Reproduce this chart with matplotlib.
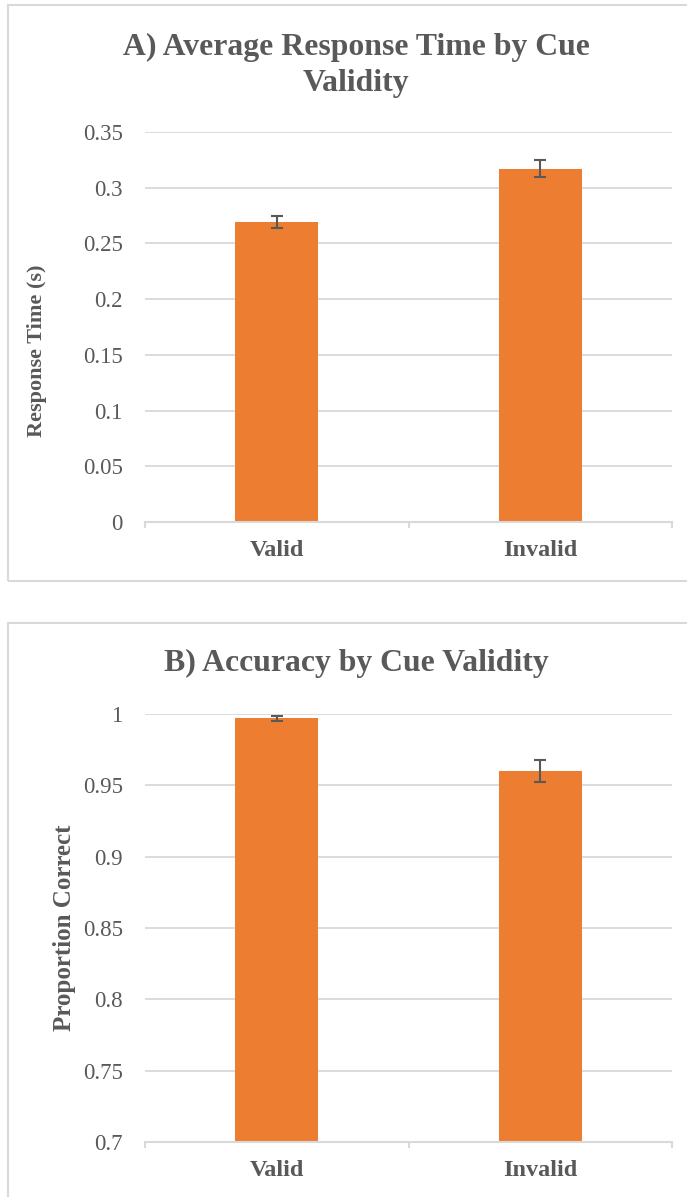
import matplotlib.pyplot as plt
from matplotlib.patches import Rectangle

# datos
categorias = ['Valid', 'Invalid']
rt_media = [0.269, 0.317]
rt_err = [0.0055, 0.0077]
acc_media = [0.997, 0.960]
acc_err = [0.0016, 0.008]

naranja = '#ED7D31'
gris = '#595959'
grilla = '#D9D9D9'

plt.rcParams['font.family'] = ['Liberation Serif', 'DejaVu Serif']

fig = plt.figure(figsize=(6.87, 11.97), dpi=100)
W, H = 687, 1197

# marcos de cada panel
fig.patches.append(Rectangle((8 / W, 1 - 581 / H), 700 / W, 576 / H, transform=fig.transFigure,
                             fill=False, edgecolor=grilla, lw=1.5))
fig.patches.append(Rectangle((8 / W, -0.01), 700 / W, 1 - 623 / H + 0.01, transform=fig.transFigure,
                             fill=False, edgecolor=grilla, lw=1.5))


def panel(rect, valores, errores, ylim, paso, etiqueta_y, tam_y, lab_x, lab_y, titulo, ty):
    ax = fig.add_axes(rect)
    x = range(len(categorias))
    ax.bar(x, valores, width=0.315, color=naranja, zorder=3)
    ax.errorbar(x, valores, yerr=errores, fmt='none', ecolor=gris, elinewidth=1.5,
                capsize=4.5, capthick=1.5, zorder=4)
    ax.set_xlim(-0.5, 1.5)
    ax.set_ylim(*ylim)
    n = round((ylim[1] - ylim[0]) / paso)
    ticks = [ylim[0] + i * paso for i in range(n + 1)]
    ax.set_yticks(ticks)
    ax.set_yticklabels([('%g' % round(t, 2)) for t in ticks])
    ax.grid(axis='y', color=grilla, lw=1.3, zorder=0)
    for s in ['top', 'right', 'left']:
        ax.spines[s].set_visible(False)
    ax.spines['bottom'].set_color(grilla)
    ax.spines['bottom'].set_linewidth(1.5)
    ax.spines['bottom'].set_zorder(5)
    ax.set_xticks(list(x))
    ax.set_xticklabels(categorias, fontsize=17.5, fontweight='bold', color=gris)
    ax.set_xticks([-0.5, 0.5, 1.5], minor=True)
    ax.tick_params(axis='x', which='major', length=0, pad=13)
    ax.tick_params(axis='x', which='minor', length=4.5, width=1.5, color=grilla)
    ax.tick_params(axis='y', length=0, pad=16, labelsize=16.5, labelcolor=gris)
    ax.set_ylabel(etiqueta_y, fontsize=tam_y, fontweight='bold', color=gris)
    ax.yaxis.set_label_coords(lab_x, lab_y)
    fig.text(356 / W, ty, titulo, ha='center', va='center', fontsize=22.9,
             fontweight='bold', color=gris, linespacing=1.32)
    return ax


panel([145 / W, 1 - 522 / H, 527 / W, 390 / H], rt_media, rt_err, (0, 0.35), 0.05,
      'Response Time (s)', 16, -0.186, 0.44,
      'A) Average Response Time by Cue\nValidity', 1 - 65 / H)
panel([145 / W, 1 - 1142 / H, 527 / W, 428 / H], acc_media, acc_err, (0.7, 1.0), 0.05,
      'Proportion Correct', 18, -0.13, 0.5,
      'B) Accuracy by Cue Validity', 1 - 663 / H)

fig.savefig('out.png', dpi=100)
